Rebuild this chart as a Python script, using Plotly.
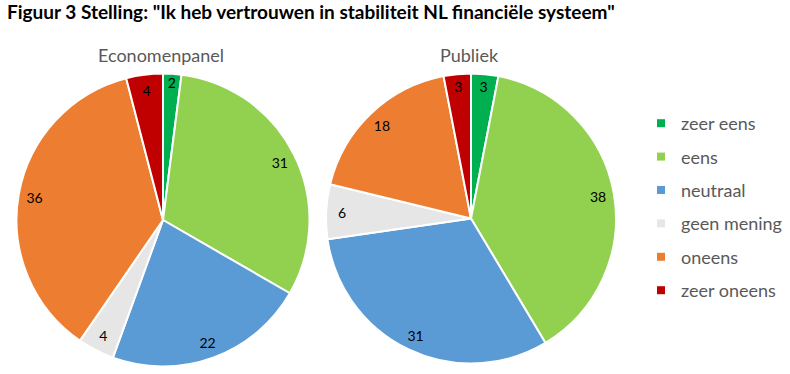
import plotly.graph_objects as go

categories = ["zeer eens", "eens", "neutraal", "geen mening", "oneens", "zeer oneens"]
economen = [2, 31, 22, 4, 36, 4]
publiek = [3, 38, 31, 6, 18, 3]
colors = ["#00B050", "#92D050", "#5B9BD5", "#E7E6E6", "#ED7D31", "#C00000"]

W, H = 790, 374
FONT = "Lato"

def pie_domain(cx, cy, r):
    return dict(x=[(cx - r) / W, (cx + r) / W],
                y=[(H - cy - r) / H, (H - cy + r) / H])

fig = go.Figure()
for vals, dom, name in [(economen, pie_domain(163, 220, 146.5), "Economenpanel"),
                        (publiek, pie_domain(471, 218.5, 145), "Publiek")]:
    # coloured pie
    fig.add_trace(go.Pie(
        labels=categories, values=vals, name=name,
        sort=False, direction="clockwise", rotation=0,
        marker=dict(colors=colors, line=dict(color="white", width=2)),
        textinfo="none", showlegend=False, domain=dom, hoverinfo="label+value",
    ))
    # transparent ring carrying the value labels near the outer edge
    fig.add_trace(go.Pie(
        labels=categories, values=vals, name=name,
        sort=False, direction="clockwise", rotation=0, hole=0.78,
        marker=dict(colors=["rgba(0,0,0,0)"] * len(vals), line=dict(width=0)),
        textinfo="value", textposition="inside",
        insidetextorientation="horizontal",
        textfont=dict(family=FONT, size=14, color="black"),
        showlegend=False, domain=dom, hoverinfo="skip",
    ))

for i, (cat, col) in enumerate(zip(categories, colors)):
    fig.add_trace(go.Scatter(
        x=[None], y=[None], mode="markers", name=cat,
        marker=dict(symbol="square", size=8, color=col),
        legendgroup=f"g{i}", showlegend=True,
    ))

fig.update_layout(
    width=W, height=H,
    margin=dict(l=0, r=0, t=0, b=0),
    paper_bgcolor="white", plot_bgcolor="white",
    xaxis=dict(visible=False), yaxis=dict(visible=False),
    uniformtext=dict(minsize=14, mode="show"),
    title=dict(text="<b>Figuur 3 Stelling: \"Ik heb vertrouwen in stabiliteit NL financiële systeem\"</b>",
               x=7 / W, xanchor="left", y=1 - 12 / H, yanchor="middle",
               font=dict(family=FONT, size=19, color="black")),
    legend=dict(x=641 / W, xanchor="left", y=1 - 105 / H, yanchor="top",
                font=dict(family=FONT, size=18, color="#595959"),
                tracegroupgap=7, bgcolor="rgba(0,0,0,0)"),
    annotations=[
        dict(text="Economenpanel", x=161 / W, y=1 - 55 / H, xref="paper", yref="paper",
             xanchor="center", yanchor="middle",
             showarrow=False, font=dict(family=FONT, size=18, color="#595959")),
        dict(text="Publiek", x=470 / W, y=1 - 55 / H, xref="paper", yref="paper",
             xanchor="center", yanchor="middle",
             showarrow=False, font=dict(family=FONT, size=18, color="#595959")),
    ],
)

fig.write_html("out.html", config={"displayModeBar": False},
               post_script="document.body.style.margin='0';")
